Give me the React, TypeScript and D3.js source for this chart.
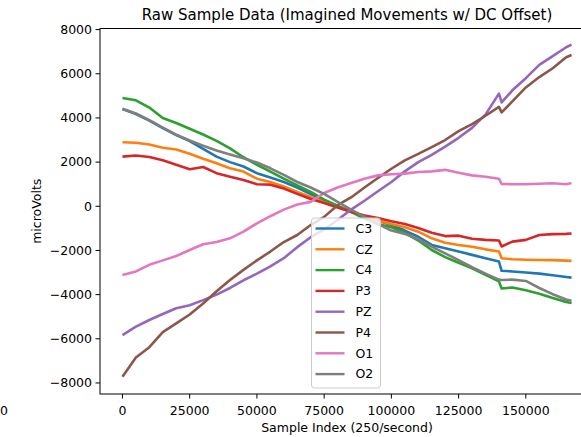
import React from "react";
import * as d3 from "d3";

const sampleIndex = [
  0, 5000, 10000, 15000, 20000, 25000, 30000, 35000, 40000, 45000, 50000, 55000,
  60000, 65000, 70000, 75000, 80000, 85000, 90000, 95000, 100000, 105000, 110000,
  115000, 120000, 125000, 130000, 135000, 140000, 141000, 145000, 150000, 155000,
  160000, 165000, 167000,
];

const C3 = [
  4400, 4180, 3880, 3540, 3220, 2950, 2600, 2250, 2000, 1800, 1500, 1300, 1100, 850,
  550, 280, 0, -250, -450, -650, -850, -1100, -1380, -1750, -1900, -2050, -2200,
  -2350, -2500, -2920, -2950, -3000, -3050, -3120, -3200, -3230,
];
const CZ = [
  2900, 2880, 2800, 2650, 2570, 2380, 2150, 1950, 1720, 1570, 1250, 1100, 900, 650,
  420, 200, -30, -250, -450, -650, -800, -950, -1150, -1450, -1650, -1750, -1830,
  -1950, -2050, -2350, -2400, -2420, -2430, -2440, -2460, -2470,
];
const C4 = [
  4900, 4800, 4470, 4000, 3770, 3510, 3250, 2960, 2620, 2220, 1880, 1570, 1250, 950,
  650, 300, 30, -250, -560, -800, -950, -1200, -1550, -1980, -2300, -2560, -2810,
  -3100, -3400, -3720, -3680, -3800, -3960, -4150, -4330, -4380,
];
const P3 = [
  2250, 2300, 2230, 2080, 1880, 1680, 1780, 1500, 1340, 1190, 1000, 980, 800, 560,
  330, 150, -60, -250, -420, -530, -680, -800, -980, -1200, -1350, -1330, -1470,
  -1520, -1550, -1820, -1600, -1520, -1300, -1260, -1250, -1230,
];
const PZ = [
  -5830, -5450, -5150, -4880, -4620, -4480, -4250, -4000, -3700, -3350, -3050, -2720,
  -2350, -1850, -1400, -1050, -620, -150, 250, 680, 1100, 1580, 2000, 2330, 2700,
  3100, 3550, 4150, 5100, 4700, 5250, 5800, 6400, 6800, 7200, 7320,
];
const P4 = [
  -7720, -6850, -6380, -5700, -5300, -4900, -4400, -3850, -3340, -2880, -2450, -2050,
  -1620, -1300, -850, -480, 50, 400, 850, 1280, 1700, 2080, 2370, 2680, 3000, 3400,
  3720, 4100, 4500, 4250, 4750, 5380, 5850, 6250, 6750, 6850,
];
const O1 = [
  -3110, -2950, -2650, -2450, -2250, -1980, -1720, -1620, -1450, -1150, -770, -450,
  -150, 80, 200, 600, 850, 1050, 1250, 1400, 1450, 1480, 1550, 1580, 1650, 1520,
  1400, 1340, 1250, 1010, 1000, 1000, 1020, 1040, 1000, 1050,
];
const O2 = [
  4420, 4200, 3900, 3560, 3240, 2980, 2740, 2530, 2350, 2170, 1980, 1720, 1420, 1100,
  850, 560, 200, -150, -480, -800, -1100, -1250, -1500, -1830, -2130, -2440, -2760,
  -3050, -3320, -3340, -3320, -3380, -3700, -3980, -4220, -4280,
];

const channelNames = ["C3", "CZ", "C4", "P3", "PZ", "P4", "O1", "O2"];
const channelValues = [C3, CZ, C4, P3, PZ, P4, O1, O2];
const channelColors = [
  "#1f77b4", "#ff7f0e", "#2ca02c", "#d62728", "#9467bd", "#8c564b", "#e377c2", "#7f7f7f",
];

const xTicks = [0, 25000, 50000, 75000, 100000, 125000, 150000];
const yTicks = [-8000, -6000, -4000, -2000, 0, 2000, 4000, 6000, 8000];

const W = 581;
const H = 437;
const left = 100;
const right = 594;
const top = 28.5;
const bottom = 394;

const fmt = (v: number) => (v < 0 ? "\u2212" + Math.abs(v) : String(v));

export default function App() {
  const x = d3.scaleLinear().domain([-8350, 175350]).range([left, right]);
  const y = d3.scaleLinear().domain([-8500, 8050]).range([bottom, top]);

  const line = d3
    .line<number>()
    .x((_, i) => x(sampleIndex[i]))
    .y((d) => y(d));

  const font = "DejaVu Sans, sans-serif";
  const legX = 311.5;
  const legY = 218;
  const legRow = 20.8;

  return (
    <svg
      width={W}
      height={H}
      style={{ position: "fixed", left: 0, top: 0, background: "#fff" }}
      fontFamily={font}
    >
      <rect x={0} y={0} width={W} height={H} fill="#fff" />
      <defs>
        <clipPath id="plotclip">
          <rect x={left} y={top} width={right - left} height={bottom - top} />
        </clipPath>
      </defs>
      <g clipPath="url(#plotclip)">
        {channelValues.map((vals, k) => (
          <path
            key={channelNames[k]}
            d={line(vals) || ""}
            fill="none"
            stroke={channelColors[k]}
            strokeWidth={2.6}
            strokeLinejoin="round"
          />
        ))}
      </g>
      {/* spines */}
      <rect
        x={left}
        y={top}
        width={right - left}
        height={bottom - top}
        fill="none"
        stroke="#000"
        strokeWidth={1}
      />
      {/* x ticks */}
      {xTicks.map((t) => (
        <g key={"x" + t}>
          <line x1={x(t)} x2={x(t)} y1={bottom} y2={bottom + 4.5} stroke="#000" />
          <text x={x(t)} y={bottom + 21} textAnchor="middle" fontSize={12.5} fill="#000">
            {t}
          </text>
        </g>
      ))}
      {/* y ticks */}
      {yTicks.map((t) => (
        <g key={"y" + t}>
          <line x1={left - 4.5} x2={left} y1={y(t)} y2={y(t)} stroke="#000" />
          <text
            x={left - 8}
            y={y(t)}
            dy="0.35em"
            textAnchor="end"
            fontSize={12.5}
            fill="#000"
          >
            {fmt(t)}
          </text>
        </g>
      ))}
      {/* stray label at far left */}
      <text x={0} y={bottom + 21} textAnchor="start" fontSize={12.5} fill="#000">
        0
      </text>
      {/* title */}
      <text x={347} y={20} textAnchor="middle" fontSize={15} fill="#000">
        Raw Sample Data (Imagined Movements w/ DC Offset)
      </text>
      {/* axis labels */}
      <text x={347} y={432} textAnchor="middle" fontSize={12.5} fill="#000">
        Sample Index (250/second)
      </text>
      <text
        transform={`translate(41,${(top + bottom) / 2}) rotate(-90)`}
        textAnchor="middle"
        fontSize={12.5}
        fill="#000"
      >
        microVolts
      </text>
      {/* legend */}
      <rect
        x={legX}
        y={legY}
        width={69}
        height={170}
        rx={3}
        fill="#fff"
        fillOpacity={0.8}
        stroke="#cccccc"
        strokeWidth={1}
      />
      {channelNames.map((name, k) => {
        const cy = legY + 10.5 + k * legRow;
        return (
          <g key={"leg" + name}>
            <line
              x1={legX + 4}
              x2={legX + 33}
              y1={cy}
              y2={cy}
              stroke={channelColors[k]}
              strokeWidth={2.4}
            />
            <text x={legX + 44} y={cy} dy="0.35em" fontSize={12.5} fill="#000">
              {name}
            </text>
          </g>
        );
      })}
    </svg>
  );
}
